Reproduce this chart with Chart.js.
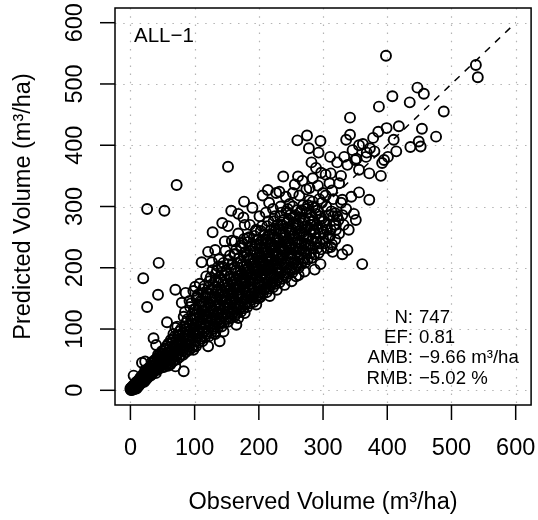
<!DOCTYPE html>
<html lang="en">
<head>
    <meta charset="UTF-8">
    <title>ALL-1 Observed vs Predicted Volume</title>
    <script src="https://cdn.jsdelivr.net/npm/chart.js@4"></script>
    <style>
        body { margin: 0; padding: 0; background: #fff; }
        #wrap { width: 538px; height: 520px; }
    </style>
</head>
<body>
    <div id="wrap"><canvas id="volChart" width="538" height="520"></canvas></div>

    <script>
        // axis ticks (m3/ha)
        const xTicks = [0, 100, 200, 300, 400, 500, 600];
        const yTicks = [0, 100, 200, 300, 400, 500, 600];
        const axisRange = [-24, 624];
        const oneToOne = [0, 600];

        const panelLabel = 'ALL\u22121';
        const statNames = ['N:', 'EF:', 'AMB:', 'RMB:'];
        const statValues = ['747', '0.81', '\u22129.66 m\u00b3/ha', '\u22125.02 %'];
        const xTitle = 'Observed Volume (m\u00b3/ha)';
        const yTitle = 'Predicted Volume (m\u00b3/ha)';

        // [observed, predicted] - scattered points above the band
        const upperTail = [
            [398,546],[538,531],[541,511],[447,494],[457,484],[408,480],[435,470],[488,455],[387,463],[342,445],
            [399,428],[386,422],[342,417],[275,416],[260,408],[296,407],[336,409],[418,431],[454,427],[449,406],
            [476,414],[410,409],[436,397],[414,390],[401,381],[356,400],[373,395],
            [278,395],[293,388],[311,381],[333,381],[350,376],[367,381],[380,390],[395,376],[390,350],[282,372],
            [289,363],[312,354],[297,355],[238,349],[261,349],[214,327],[232,324],[253,322],[279,330],[300,322],
            [325,338],[356,360],[372,354],[356,323],[372,311],[330,311],[319,289],[351,278],[320,262],[392,371],
            [452,398],[152,365],[72,335],[26,296],[53,293],[44,208],
            [20,183],[43,156],[26,136],[70,164],[86,159],[80,143],[101,169],[57,111],[70,102],[36,85],
            [40,74],[23,47],[5,24],[128,258],[143,273],[152,268],[157,293],[177,308],[168,288],[178,270],
            [147,243],[163,243],[177,247],[121,226],[132,229],[111,209],[127,209],[137,202],
            [18,45],
            [92,146],[98,162],[104,152],[108,174],[113,158],[118,186],[122,168],[128,196],[133,178],[138,214],
            [142,192],[148,228],[153,206],[158,244],[162,222],[168,256],[172,236],[176,282],[182,248],[186,270],
            [190,298],[196,262],[201,284],[206,318],[211,290],[216,306],[222,296],[227,322],[234,300],[242,316],
            [248,304],[256,336],[263,318],[268,342],[274,328],[284,346],[292,334],[304,352],[310,338],[322,372],
            [328,350],[338,368],[346,392],[352,378],[362,402],[368,388],[378,412]
        ];

        // points below the band
        const lowerEdge = [
            [0,3],[83,31],[70,39],[139,80],[121,72],[145,96],[178,126],[165,107],[116,129],
            [217,154],[240,172],[251,178],[258,186],[271,194],[287,197],[199,150],[361,206],
            [338,229],[315,226],[312,234],
            [62,42],[98,66],[132,92],[168,118],[196,140],[228,164],[262,188],[296,206],[330,222]
        ];

        // dense main band
        const mainBand = [
            [0.5,1],[1,3],[1.5,0.5],[2,5],[2.5,2],[3,1],[3.5,6],[4,3],[4.5,8],[5,4],[5.5,1.5],[6,7],[6.5,10],[7,5],[8,12],[8.5,6],[9,9],[9.5,3],
            [10,14],[10.5,8],[11,11],[12,6],[12.5,16],[13,12],[14,9],[14.5,19],[15,14],[16,11],[16.5,22],[17,16],[18,13],[18.5,20],[19,25],[19.5,15],
            [20,18],[21,24],[21.5,14],[22,28],[23,21],[24,17],[24.5,30],[25,25],[26,20],[26.5,34],[27,27],[28,22],[28.5,31],[29,37],[29.5,26],[23,33],
            [30,29],[31,36],[31.5,24],[32,40],[33,31],[34,27],[34.5,44],[35,36],[36,30],[36.5,47],[37,39],[38,33],[38.5,50],[39,42],[39.5,28],[33,46],
            [40,38],[41,46],[41.5,33],[42,52],[43,41],[44,35],[44.5,56],[45,47],[46,40],[46.5,60],[47,50],[48,37],[48.5,55],[49,64],[49.5,44],[43,58],
            [50,50],[51,42],[51.5,60],[52,38],[53,55],[54,46],[54.5,68],[55,58],[56,43],[56.5,72],[57,52],[58,62],[58.5,40],[59,76],[59.5,56],[53,66],
            [60,60],[61,48],[61.5,70],[62,44],[63,64],[64,52],[64.5,78],[65,68],[66,47],[66.5,84],[67,58],[68,73],[68.5,50],[69,88],[69.5,63],[63,82],[67,92],[62,56],
            [70,70],[71,56],[71.5,82],[72,50],[73,74],[74,60],[74.5,90],[75,78],[76,54],[76.5,96],[77,66],[78,84],[78.5,58],[79,100],[79.5,72],[73,104],[77,88],[72,64],
            [80,80],[81,64],[81.5,94],[82,58],[83,86],[84,70],[84.5,104],[85,90],[86,62],[86.5,110],[87,76],[88,96],[88.5,66],[89,116],[89.5,84],[83,120],[87,100],[82,74],[85,128],[88,88],
            [90,90],[91,72],[91.5,106],[92,66],[93,96],[94,78],[94.5,116],[95,100],[96,70],[96.5,124],[97,86],[98,108],[98.5,74],[99,132],[99.5,94],[93,136],[97,114],[92,82],[95,142],[98,98],
            [100,100],[101,80],[101.5,118],[102,72],[103,106],[104,88],[104.5,128],[105,112],[106,78],[106.5,138],[107,94],[108,120],[108.5,84],[109,146],[109.5,104],[103,150],[107,126],[102,92],[105,156],[108,108],[101,132],[106,98],
            [110,110],[111,88],[111.5,130],[112,80],[113,118],[114,96],[114.5,140],[115,122],[116,86],[116.5,152],[117,104],[118,132],[118.5,92],[119,160],[119.5,114],[113,165],[117,138],[112,100],[115,170],[118,120],[111,145],[116,108],
            [120,120],[121,96],[121.5,142],[122,88],[123,128],[124,104],[124.5,152],[125,134],[126,94],[126.5,164],[127,114],[128,144],[128.5,100],[129,172],[129.5,124],[123,178],[127,150],[122,110],[125,184],[128,130],[121,158],[126,118],[124,138],[129,108],
            [130,130],[131,104],[131.5,152],[132,96],[133,138],[134,112],[134.5,164],[135,144],[136,102],[136.5,176],[137,124],[138,156],[138.5,108],[139,184],[139.5,134],[133,190],[137,162],[132,118],[135,196],[138,140],[131,168],[136,128],[134,148],[139,116],
            [140,140],[141,112],[141.5,164],[142,104],[143,148],[144,120],[144.5,176],[145,154],[146,110],[146.5,188],[147,134],[148,166],[148.5,116],[149,196],[149.5,144],[143,202],[147,172],[142,126],[145,208],[148,150],[141,180],[146,138],[144,160],[149,124],[140,152],[147,144],
            [150,150],[151,120],[151.5,174],[152,112],[153,158],[154,128],[154.5,186],[155,164],[156,118],[156.5,198],[157,144],[158,176],[158.5,124],[159,206],[159.5,154],[153,212],[157,182],[152,134],[155,220],[158,160],[151,190],[156,148],[154,170],[159,132],[150,162],[157,154],
            [160,160],[161,128],[161.5,184],[162,120],[163,168],[164,136],[164.5,196],[165,174],[166,126],[166.5,208],[167,154],[168,186],[168.5,132],[169,216],[169.5,164],[163,222],[167,192],[162,142],[165,230],[168,170],[161,200],[166,158],[164,180],[169,140],[160,172],[167,164],
            [170,170],[171,136],[171.5,194],[172,128],[173,178],[174,144],[174.5,206],[175,184],[176,134],[176.5,218],[177,164],[178,196],[178.5,140],[179,226],[179.5,174],[173,232],[177,202],[172,152],[175,240],[178,180],[171,210],[176,168],[174,190],[179,150],[170,182],[177,174],
            [180,180],[181,144],[181.5,204],[182,136],[183,188],[184,152],[184.5,216],[185,194],[186,142],[186.5,228],[187,174],[188,206],[188.5,148],[189,236],[189.5,184],[183,242],[187,212],[182,160],[185,250],[188,190],[181,220],[186,178],[184,200],[189,158],[180,192],[187,184],
            [190,190],[191,152],[191.5,214],[192,144],[193,198],[194,160],[194.5,226],[195,204],[196,150],[196.5,238],[197,184],[198,216],[198.5,156],[199,246],[199.5,194],[193,252],[197,222],[192,168],[195,260],[198,200],[191,230],[196,188],[194,210],[199,166],[190,202],[197,194],
            [200,198],[201,160],[201.5,222],[202,152],[203,206],[204,168],[204.5,234],[205,212],[206,158],[206.5,246],[207,192],[208,224],[208.5,164],[209,254],[209.5,202],[203,260],[207,230],[202,176],[205,268],[208,208],[201,238],[206,196],[204,218],[209,174],[200,210],[207,202],
            [210,206],[211,168],[211.5,230],[212,160],[213,214],[214,176],[214.5,242],[215,220],[216,166],[216.5,254],[217,200],[218,232],[218.5,172],[219,262],[219.5,210],[213,268],[217,238],[212,184],[215,276],[218,216],[211,246],[216,204],[214,226],[219,182],
            [220,214],[221,176],[221.5,238],[222,168],[223,222],[224,184],[224.5,250],[225,228],[226,174],[226.5,262],[227,208],[228,240],[228.5,180],[229,270],[229.5,218],[223,276],[227,246],[222,192],[225,284],[228,224],[221,254],[226,212],[224,234],[229,190],
            [230,222],[231,184],[231.5,246],[232,176],[233,230],[234,192],[234.5,258],[235,236],[236,182],[236.5,270],[237,216],[238,248],[238.5,188],[239,278],[239.5,226],[233,284],[237,254],[232,200],[235,290],[238,232],[231,262],[236,220],
            [240,230],[241,192],[241.5,254],[242,184],[243,238],[244,200],[244.5,266],[245,244],[246,190],[246.5,278],[247,224],[248,256],[248.5,196],[249,286],[249.5,234],[243,292],[247,262],[242,208],[245,296],[248,240],
            [250,238],[251,200],[251.5,262],[252,192],[253,246],[254,208],[254.5,274],[255,252],[256,198],[256.5,286],[257,232],[258,264],[258.5,204],[259,294],[259.5,242],[253,300],[257,270],[252,216],
            [260,246],[261,208],[261.5,270],[262,200],[263,254],[264,216],[264.5,282],[265,260],[266,206],[266.5,294],[267,240],[268,272],[268.5,212],[269,302],[269.5,250],[263,230],
            [270,254],[271,216],[271.5,278],[272,208],[273,262],[274,224],[274.5,290],[275,268],[276,214],[276.5,302],[277,248],[278,280],[279,310],[273,236],
            [280,262],[281,224],[281.5,286],[282,216],[283,270],[284,232],[285,276],[286,222],[287,298],[288,256],[289,288],[284,308],
            [290,270],[291,232],[292,294],[293,224],[294,278],[295,240],[296,284],[297,230],[298,306],[299,264],
            [301,276],[303,240],[305,300],[307,232],[309,286],[311,252],[313,292],[314,238],[316,312],[317,270],[319,246],[306,262],
            [322,284],[325,256],[328,306],[332,270],[336,296],[340,262],[344,316],[348,288]
        ];

        // extra points filling the darkest part of the band
        const coreFill = [
            [152,140],[156,166],[161,150],[165,182],[170,158],[174,176],[179,162],[183,198],[186,168],[190,180],
            [194,192],[198,172],[202,186],[205,224],[209,188],[212,196],[215,210],[218,186],[222,204],[225,236],
            [229,200],[232,214],[235,206],[238,220],[241,242],[244,212],[247,232],[250,222],[253,230],[256,256],
            [259,226],[262,240],[265,232],[268,258],[271,240],[274,252],[277,236],[280,270],[283,244],[286,262],
            [289,248],[292,266],[295,256],[298,280],[301,258],[304,270],[308,250],[312,262],[316,284],[320,270],
            [324,278],[330,286],[186,214],[194,236],[204,244],[214,252],[224,264],[234,270],[244,274],[254,282],
            [264,290],[274,296],[284,300],[294,312],[304,318],[314,326],[200,176],[210,182],[220,190],[230,196],
            [240,206],[250,214],[260,220],[270,228],[280,236],[290,242],[300,248]
        ];

        const FONT = '"Liberation Sans", Arial, Helvetica, sans-serif';

        const points = mainBand.concat(coreFill, lowerEdge, upperTail).map(p => ({ x: p[0], y: p[1] }));

        // dotted grid under the points
        const gridPlugin = {
            id: 'rGrid',
            beforeDatasetsDraw(chart) {
                const { ctx, chartArea: a, scales } = chart;
                ctx.save();
                ctx.strokeStyle = '#b4b4b4';
                ctx.lineWidth = 1.2;
                ctx.setLineDash([1.5, 6.7]);
                xTicks.forEach(v => {
                    const px = Math.round(scales.x.getPixelForValue(v)) + 0.5;
                    ctx.beginPath(); ctx.moveTo(px, a.top); ctx.lineTo(px, a.bottom); ctx.stroke();
                });
                yTicks.forEach(v => {
                    const py = Math.round(scales.y.getPixelForValue(v)) + 0.5;
                    ctx.beginPath(); ctx.moveTo(a.left, py); ctx.lineTo(a.right, py); ctx.stroke();
                });
                ctx.restore();
            }
        };

        // box, axes, labels, annotations
        const framePlugin = {
            id: 'rFrame',
            afterDraw(chart) {
                const { ctx, chartArea: a, scales } = chart;
                ctx.save();
                ctx.strokeStyle = '#000';
                ctx.fillStyle = '#000';
                ctx.lineWidth = 1.5;
                ctx.setLineDash([]);
                ctx.strokeRect(a.left, a.top, a.right - a.left, a.bottom - a.top);

                ctx.font = '23.5px ' + FONT;
                ctx.textAlign = 'center';
                ctx.textBaseline = 'alphabetic';
                xTicks.forEach(v => {
                    const px = scales.x.getPixelForValue(v);
                    ctx.beginPath(); ctx.moveTo(px, a.bottom); ctx.lineTo(px, a.bottom + 15); ctx.stroke();
                    ctx.fillText(String(v), px, 455);
                });
                yTicks.forEach(v => {
                    const py = scales.y.getPixelForValue(v);
                    ctx.beginPath(); ctx.moveTo(a.left, py); ctx.lineTo(a.left - 15, py); ctx.stroke();
                    ctx.save();
                    ctx.translate(82, py);
                    ctx.rotate(-Math.PI / 2);
                    ctx.fillText(String(v), 0, 0);
                    ctx.restore();
                });

                // axis titles
                const cx = (a.left + a.right) / 2;
                const cy = (a.top + a.bottom) / 2;
                ctx.fillText(xTitle, cx, 509);
                ctx.save();
                ctx.translate(30, cy);
                ctx.rotate(-Math.PI / 2);
                ctx.fillText(yTitle, 0, 0);
                ctx.restore();

                // panel label
                ctx.font = '20.5px ' + FONT;
                ctx.textAlign = 'left';
                ctx.fillText(panelLabel, 134, 42);

                // fit statistics
                ctx.font = '18.6px ' + FONT;
                statNames.forEach((n, i) => {
                    const by = 323 + i * 20.2;
                    ctx.textAlign = 'right';
                    ctx.fillText(n, 413, by);
                    ctx.textAlign = 'left';
                    ctx.fillText(statValues[i], 419, by);
                });
                ctx.restore();
            }
        };

        new Chart(document.getElementById('volChart'), {
            type: 'scatter',
            data: {
                datasets: [{
                    label: 'ALL-1',
                    data: points,
                    pointStyle: 'circle',
                    pointRadius: 5,
                    pointHoverRadius: 5,
                    pointBorderWidth: 1.9,
                    borderColor: '#000',
                    backgroundColor: 'rgba(0,0,0,0)',
                    order: 2
                }, {
                    type: 'line',
                    label: '1:1',
                    data: oneToOne.map(v => ({ x: v, y: v })),
                    borderColor: '#000',
                    borderWidth: 1.5,
                    borderDash: [7, 7],
                    pointRadius: 0,
                    fill: false,
                    order: 1
                }]
            },
            options: {
                responsive: false,
                animation: false,
                devicePixelRatio: 1,
                layout: { padding: { left: 115, top: 8, right: 5, bottom: 115 } },
                plugins: { legend: { display: false }, tooltip: { enabled: false } },
                scales: {
                    x: { type: 'linear', min: axisRange[0], max: axisRange[1], display: false },
                    y: { type: 'linear', min: axisRange[0], max: axisRange[1], display: false }
                }
            },
            plugins: [gridPlugin, framePlugin]
        });
    </script>
</body>
</html>
